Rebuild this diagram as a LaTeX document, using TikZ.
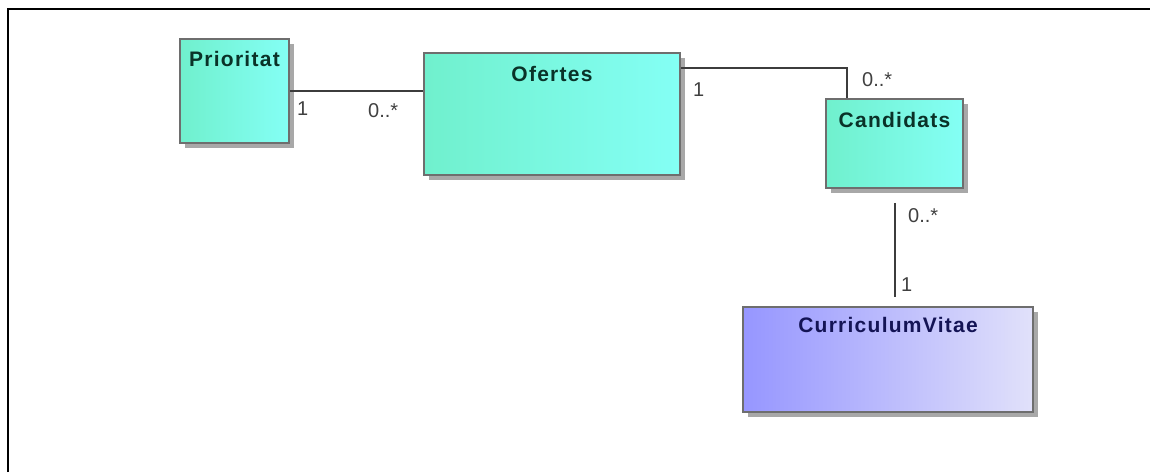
\documentclass[tikz,border=0pt]{standalone}
\usepackage{fontspec}
\setmainfont{Liberation Sans}
\newfontfamily\classfont{Liberation Sans}[LetterSpace=6]
\usetikzlibrary{calc,shadows}

\definecolor{clsleft}{RGB}{112,240,205}
\definecolor{clsright}{RGB}{132,255,245}
\definecolor{cvleft}{RGB}{150,150,255}
\definecolor{cvright}{RGB}{225,225,250}
\definecolor{rim}{RGB}{110,110,110}
\definecolor{shadowgray}{RGB}{168,168,168}
\definecolor{clstext}{RGB}{10,50,40}
\definecolor{cvtext}{RGB}{20,20,85}
\definecolor{linegray}{RGB}{60,60,60}

\tikzset{
  classbox/.style={rectangle, draw=rim, line width=1.5pt, inner sep=0pt,
    left color=clsleft, right color=clsright,
    drop shadow={shadow xshift=5pt, shadow yshift=-5pt, fill=shadowgray, opacity=1}},
  cvbox/.style={classbox, left color=cvleft, right color=cvright},
  classname/.style={font=\classfont\bfseries\fontsize{21}{25}\selectfont,
    inner sep=0pt, anchor=north, text=clstext},
  mult/.style={font=\fontsize{20}{24}\selectfont, inner sep=0pt, anchor=west, text=black!75},
  assoc/.style={draw=linegray, line width=2pt},
}

\begin{document}
\begin{tikzpicture}[x=1pt, y=-1pt]
    \useasboundingbox (0,0) rectangle (1150,472);
    \draw[line width=2pt] (8,472) -- (8,9) -- (1150,9); % 外框

    % 类
    \node[classbox, minimum width=109pt, minimum height=104pt,
      label={[classname, yshift=-13pt]north:Prioritat}] (prio) at (234.5,91) {};
    \node[classbox, minimum width=256pt, minimum height=122pt,
      label={[classname, yshift=-14pt]north:Ofertes}] (ofertes) at (552,114) {};
    \node[classbox, minimum width=137pt, minimum height=89pt,
      label={[classname, yshift=-14pt]north:Candidats}] (cand) at (894.5,143.5) {};
    \node[cvbox, minimum width=290pt, minimum height=105pt,
      label={[classname, text=cvtext, yshift=-11pt]north:CurriculumVitae}] (cv) at (888,359.5) {};

    % 关联
    \draw[assoc] (prio.east) -- (prio.east -| ofertes.west);
    \draw[assoc] ($(ofertes.north east)+(0,16)$) -| ($(cand.north west)+(22,0)$);
    \draw[assoc] ($(cand.south)+(0,14)$) -- ($(cand.south |- cv.north)+(0,-9)$);

    % 多重性
    \node[mult] (m1) at (297,109) {1};
    \node[mult] (m2) at (368,111) {0..*};
    \node[mult] (m3) at (693,90) {1};
    \node[mult] (m4) at (862,80) {0..*};
    \node[mult] (m5) at (908,216) {0..*};
    \node[mult] (m6) at (901,285) {1};
\end{tikzpicture}
\end{document}
